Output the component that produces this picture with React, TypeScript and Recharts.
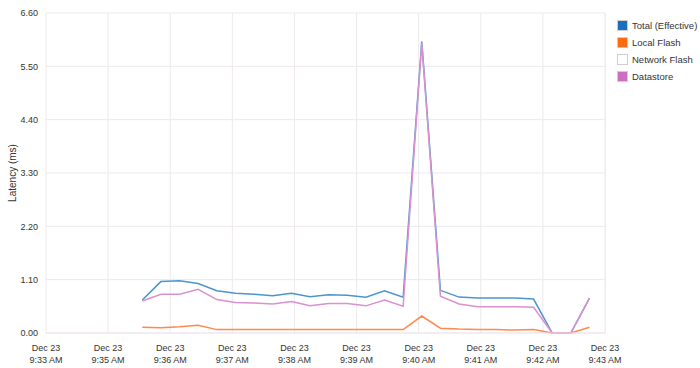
import { LineChart, Line, XAxis, YAxis, CartesianGrid } from 'recharts'

// seconds from the first axis tick
const times = [93, 111, 129, 147, 165, 183, 201, 219, 237, 255, 273, 291, 309, 327, 345, 363, 381, 399, 417, 435, 453, 471, 489, 507, 525]
const total = [0.68, 1.06, 1.08, 1.02, 0.87, 0.82, 0.8, 0.77, 0.82, 0.75, 0.79, 0.78, 0.74, 0.87, 0.74, 6.01, 0.88, 0.74, 0.72, 0.72, 0.72, 0.7, 0, 0, 0.72]
const localFlash = [0.12, 0.11, 0.13, 0.16, 0.07, 0.07, 0.07, 0.07, 0.07, 0.07, 0.07, 0.07, 0.07, 0.07, 0.07, 0.35, 0.1, 0.08, 0.07, 0.07, 0.06, 0.07, 0, 0, 0.12]
const datastore = [0.66, 0.8, 0.8, 0.9, 0.69, 0.63, 0.62, 0.6, 0.65, 0.56, 0.61, 0.61, 0.56, 0.68, 0.55, 5.98, 0.76, 0.6, 0.54, 0.54, 0.54, 0.53, 0, 0, 0.72]

const xTicks = [0, 60, 120, 180, 240, 300, 360, 420, 480, 540]
const xLabels = ['9:33 AM', '9:35 AM', '9:36 AM', '9:37 AM', '9:38 AM', '9:39 AM', '9:40 AM', '9:41 AM', '9:42 AM', '9:43 AM']
const yTicks = [0, 1.1, 2.2, 3.3, 4.4, 5.5, 6.6]

const legend = [
  { name: 'Total (Effective)', color: '#1a6fc0' },
  { name: 'Local Flash', color: '#ff6a10' },
  { name: 'Network Flash', color: '#ffffff' },
  { name: 'Datastore', color: '#cc6fbf' },
]

const data = times.map((t, i) => ({
  t,
  total: total[i],
  local: localFlash[i],
  datastore: datastore[i],
}))

const font = 'Arial, "Liberation Sans", sans-serif'

function TimeTick({ x, y, payload }: any) {
  const i = xTicks.indexOf(payload.value)
  return (
    <g transform={`translate(${x},${y})`}>
      <text textAnchor="middle" fontSize={9} fill="#333" fontFamily={font}>
        <tspan x={0} dy={10}>Dec 23</tspan>
        <tspan x={0} dy={12}>{xLabels[i]}</tspan>
      </text>
    </g>
  )
}

export default function App() {
  return (
    <div style={{ position: 'absolute', left: 0, top: 0, width: 700, height: 368, background: '#fff', fontFamily: font }}>
      <LineChart width={700} height={368} data={data} margin={{ top: 13, right: 95, left: 0, bottom: 0 }}>
        <CartesianGrid stroke="#ede9ed" />
        <XAxis
          dataKey="t"
          type="number"
          domain={[0, 540]}
          ticks={xTicks}
          tick={<TimeTick />}
          tickLine={false}
          axisLine={{ stroke: '#f0e4ee' }}
          height={35}
          interval={0}
        />
        <YAxis
          domain={[0, 6.6]}
          ticks={yTicks}
          width={46}
          tickFormatter={(v) => v.toFixed(2)}
          tick={{ fontSize: 9, fill: '#333', fontFamily: font }}
          tickLine={false}
          axisLine={false}
          label={{ value: 'Latency (ms)', angle: -90, position: 'insideLeft', offset: 12, style: { fontSize: 10, fill: '#333', fontFamily: font, textAnchor: 'middle' } }}
        />
        <Line type="linear" dataKey="total" stroke="#4b95cf" strokeWidth={1.5} dot={false} isAnimationActive={false} />
        <Line type="linear" dataKey="local" stroke="#ff8a4c" strokeWidth={1.5} dot={false} isAnimationActive={false} />
        <Line type="linear" dataKey="datastore" stroke="#d991cf" strokeWidth={1.5} dot={false} isAnimationActive={false} />
      </LineChart>
      <div style={{ position: 'absolute', left: 605, top: 13, width: 1, height: 320, background: '#ededed' }} />
      <div style={{ position: 'absolute', left: 617, top: 17 }}>
        {legend.map((l) => (
          <div key={l.name} style={{ display: 'flex', alignItems: 'center', height: 17, fontSize: 9.5, color: '#333' }}>
            <span style={{ display: 'inline-block', width: 9, height: 9, background: l.color, border: '1px solid #cfcfcf', marginRight: 4 }} />
            {l.name}
          </div>
        ))}
      </div>
    </div>
  )
}
